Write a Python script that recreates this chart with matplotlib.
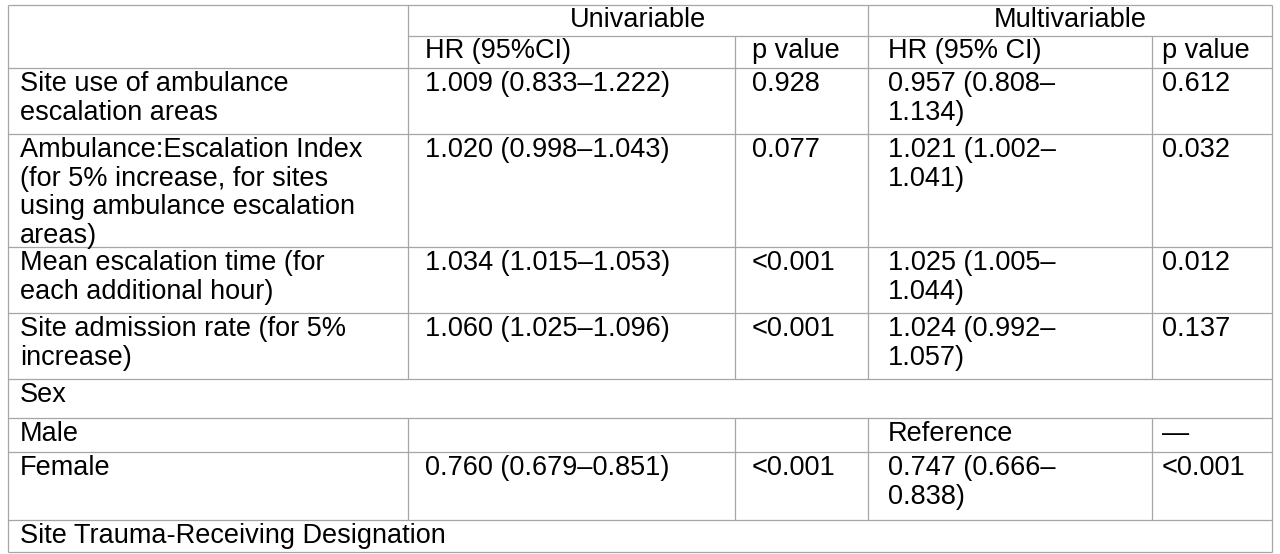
import matplotlib
matplotlib.use("Agg")
import matplotlib.pyplot as plt

plt.rcParams['font.family'] = ['Liberation Sans', 'DejaVu Sans']

groups = ["Univariable", "Multivariable"]
subheads = ["HR (95%CI)", "p value", "HR (95% CI)", "p value"]
row_labels = ["Site use of ambulance\nescalation areas",
              "Ambulance:Escalation Index\n(for 5% increase, for sites\nusing ambulance escalation\nareas)",
              "Mean escalation time (for\neach additional hour)",
              "Site admission rate (for 5%\nincrease)",
              "Sex", "Male", "Female",
              "Site Trauma-Receiving Designation"]
uni_hr = ["1.009 (0.833\u20131.222)", "1.020 (0.998\u20131.043)", "1.034 (1.015\u20131.053)",
          "1.060 (1.025\u20131.096)", None, "", "0.760 (0.679\u20130.851)", None]
uni_p = ["0.928", "0.077", "<0.001", "<0.001", None, "", "<0.001", None]
multi_hr = ["0.957 (0.808\u2013\n1.134)", "1.021 (1.002\u2013\n1.041)", "1.025 (1.005\u2013\n1.044)",
            "1.024 (0.992\u2013\n1.057)", None, "Reference", "0.747 (0.666\u2013\n0.838)", None]
multi_p = ["0.612", "0.032", "0.012", "0.137", None, "\u2014", "<0.001", None]

W, H = 1280, 554
fig = plt.figure(figsize=(12.8, 5.54), dpi=100)
ax = fig.add_axes([0, 0, 1, 1])
ax.set_xlim(0, W); ax.set_ylim(H, 0); ax.axis('off')

cols = [8, 408, 735, 868, 1152, 1272]
rows = [68, 134, 247, 313, 379, 418, 452, 520, 552]
top, mid = 5, 36
lc = '#a6a6a6'; lw = 0.9
fs = 19.5
kw = dict(fontsize=fs, color='black', va='top', ha='left', linespacing=1.13)

def h(y, x0=cols[0], x1=cols[-1]):
    ax.plot([x0, x1], [y, y], color=lc, lw=lw, solid_capstyle='butt')
def v(x, y0, y1):
    ax.plot([x, x], [y0, y1], color=lc, lw=lw, solid_capstyle='butt')

h(top); h(mid, cols[1], cols[-1])
for y in rows:
    h(y)
v(cols[0], top, rows[-1]); v(cols[-1], top, rows[-1])
v(cols[1], top, rows[4]); v(cols[3], top, rows[4])
v(cols[2], mid, rows[4]); v(cols[4], mid, rows[4])
for x in cols[1:-1]:
    v(x, rows[5], rows[7])

ax.text((cols[1] + cols[3]) / 2, 7, groups[0], **{**kw, 'ha': 'center'})
ax.text((cols[3] + cols[5]) / 2, 7, groups[1], **{**kw, 'ha': 'center'})
xoff = [17, 17, 20, 10]
for i, s in enumerate(subheads):
    ax.text(cols[i + 1] + xoff[i], 38, s, **kw)

row_tops = rows[:-1]
for i, lab in enumerate(row_labels):
    y = row_tops[i] + 3
    ax.text(cols[0] + 12, y, lab, **kw)
    for j, vals in enumerate([uni_hr, uni_p, multi_hr, multi_p]):
        if vals[i]:
            ax.text(cols[j + 1] + xoff[j], y, vals[i], **kw)

fig.savefig("out.png", dpi=100)
